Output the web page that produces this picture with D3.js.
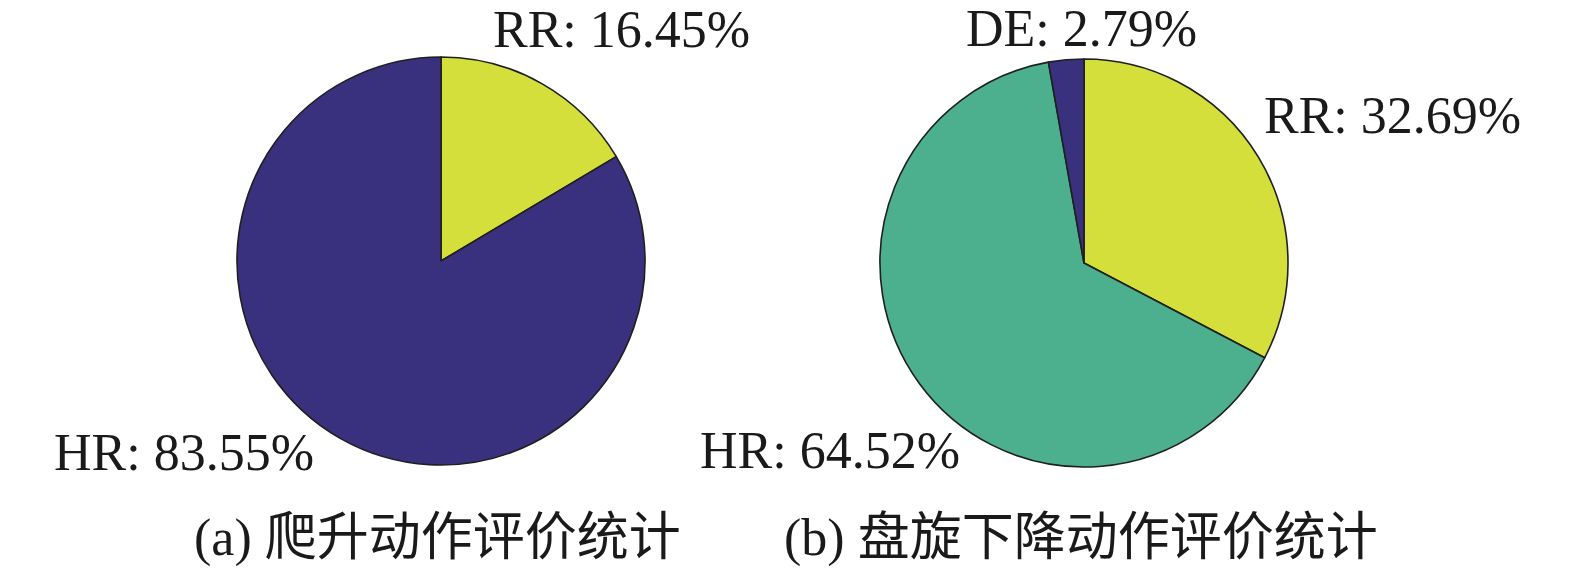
<!DOCTYPE html>
<html>
<head>
<meta charset="utf-8">
<script src="https://cdn.jsdelivr.net/npm/d3@7"></script>
<style>
  html, body { margin: 0; padding: 0; background: #fff; }
  svg { display: block; }
</style>
</head>
<body>
<svg id="chart" width="1575" height="579"></svg>
<script>
// ---- data ----
const categoriesA = ["RR", "HR"];
const valuesA = [16.45, 83.55];
const captionA = "(a) 爬升动作评价统计";

const categoriesB = ["RR", "HR", "DE"];
const valuesB = [32.69, 64.52, 2.79];
const captionB = "(b) 盘旋下降动作评价统计";

// ---- styles / layout ----
const colorA = { RR: "#d4df3b", HR: "#39317d" };
const colorB = { RR: "#d4df3b", HR: "#4caf8d", DE: "#39317d" };

const layout = [
  { cx: 441, cy: 261, r: 204, caption: { x: 194, y: 555 },
    labels: { RR: { x: 493, y: 47 }, HR: { x: 54, y: 470 } } },
  { cx: 1084, cy: 263, r: 204, caption: { x: 784, y: 555 },
    labels: { RR: { x: 1264, y: 133 }, HR: { x: 700, y: 468 }, DE: { x: 966, y: 46 } } }
];

const charts = [
  { cats: categoriesA, vals: valuesA, colors: colorA, caption: captionA },
  { cats: categoriesB, vals: valuesB, colors: colorB, caption: captionB }
];

const svg = d3.select("#chart");
svg.append("rect").attr("width", 1575).attr("height", 579).attr("fill", "#fff");

const pie = d3.pie().sort(null).value(d => d.v).startAngle(0).endAngle(2 * Math.PI);

charts.forEach((c, i) => {
  const L = layout[i];
  const data = c.cats.map((k, j) => ({ k, v: c.vals[j] }));
  const arcs = pie(data);
  const arc = d3.arc().innerRadius(0).outerRadius(L.r);
  const g = svg.append("g").attr("transform", `translate(${L.cx},${L.cy})`);
  g.selectAll("path").data(arcs).join("path")
    .attr("d", arc)
    .attr("fill", d => c.colors[d.data.k])
    .attr("stroke", "#1f1f1f")
    .attr("stroke-width", 1.6)
    .attr("stroke-linejoin", "round");

  svg.selectAll(null).data(arcs).join("text")
    .attr("x", d => L.labels[d.data.k].x)
    .attr("y", d => L.labels[d.data.k].y)
    .attr("font-family", "'Liberation Serif', 'Times New Roman', serif")
    .attr("font-size", 52)
    .attr("fill", "#1a1a1a")
    .text(d => `${d.data.k}: ${d.data.v.toFixed(2)}%`);

  svg.append("text")
    .attr("x", L.caption.x)
    .attr("y", L.caption.y)
    .attr("font-family", "'Liberation Serif', 'Noto Sans CJK SC', serif")
    .attr("font-size", 52)
    .attr("fill", "#1a1a1a")
    .text(c.caption);
});
</script>
</body>
</html>
